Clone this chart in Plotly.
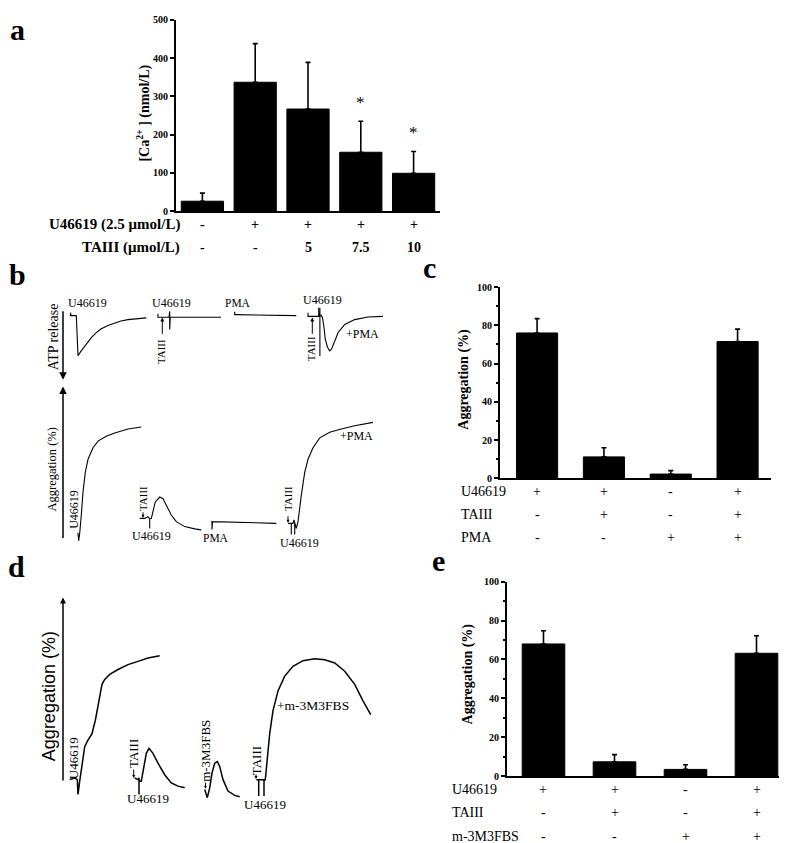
import plotly.graph_objects as go

W, H = 787, 843
SERIF = "Liberation Serif"
SANS = "Liberation Sans"

# ---------------- data ----------------
# panel a: [Ca2+] (nmol/L)
a_means = [26, 337, 267, 154, 99]
a_errs = [21, 101, 122, 81, 57]
a_u46619 = ["-", "+", "+", "+", "+"]
a_taiii = ["-", "-", "5", "7.5", "10"]
a_sig = ["", "", "", "*", "*"]

# panel c: aggregation (%)
c_means = [76, 11.2, 2.2, 71.5]
c_errs = [7.5, 4.8, 1.8, 6.5]
c_u46619 = ["+", "+", "-", "+"]
c_taiii = ["-", "+", "-", "+"]
c_pma = ["-", "-", "+", "+"]

# panel e: aggregation (%)
e_means = [68, 7.3, 3.4, 63.2]
e_errs = [6.8, 3.7, 2.4, 9.0]
e_u46619 = ["+", "+", "-", "+"]
e_taiii = ["-", "+", "-", "+"]
e_m3m3fbs = ["-", "-", "+", "+"]

# panels b and d: raw recordings (page pixel units)
bA1_x = [61.7, 62.5, 62.5, 63, 68.3, 69.2, 70, 73, 76.7, 80, 83.3, 88, 93.3, 100, 106.7, 113, 120, 130, 138.3]
bA1_y = [306, 306, 303, 306, 306, 330, 346.7, 342, 336.7, 332, 328.3, 323.5, 319.3, 316, 313.3, 311.5, 310, 309, 308.3]
bA2_x = [150, 150, 150, 161, 161.7, 161.7, 162.3, 213]
bA2_y = [304, 307.7, 307.7, 307.7, 301.7, 320, 307.7, 307.7]
bA3_x = [226.7, 226.7, 227.5, 288.3]
bA3_y = [302, 305, 305, 306]
bA4_x = [300, 300, 310, 310.7, 310.7, 311.5, 313, 314.5, 316, 317.3, 319.5, 321.7, 323.5, 325, 327.5, 330, 336.7, 346.7, 360, 375]
bA4_y = [303, 306.7, 306.7, 306.7, 298, 306.7, 305.5, 308, 318, 330, 338, 341.7, 340, 336.7, 330, 323.3, 315, 310, 307.3, 306.7]
bA4m_x = [311.9, 311.9]
bA4m_y = [298, 347]

bG1_x = [69.3, 70, 70.7, 71.7, 73.3, 75, 77.3, 80, 85, 90, 98.3, 106.7, 120, 133.3]
bG1_y = [526.7, 527, 534.3, 526.7, 508.3, 485, 465, 451.7, 440, 433.3, 428.3, 425, 421, 419]
bG2_x = [131.7, 136.7, 140, 141.7, 141.7, 141.7, 143.3, 145, 147.3, 151.7, 155, 158.3, 163.3, 168.3, 176.7, 186.7, 193.3]
bG2_y = [511.7, 511.7, 510, 512, 522, 512, 511.7, 505, 495, 490, 491.7, 498.3, 508.3, 515, 520, 522.3, 523.3]
bG3_x = [203.3, 204, 204, 204.5, 268.3]
bG3_y = [515, 515, 523, 515, 516.7]
bG4_x = [280, 283.3, 283.3, 283.3, 285, 286, 286.7, 286.7, 286.7, 288.3, 290, 293.3, 296.7, 300, 305, 311.7, 321.7, 333.3, 346.7, 365]
bG4_y = [516.7, 516.7, 528, 516.7, 516.7, 513.3, 516, 528, 516, 521.7, 515, 488.3, 465, 451.7, 440, 430, 424.3, 421, 417.7, 414.3]

d1_x = [61.7, 66.7, 69.3, 70, 71.7, 74, 76.7, 80, 84, 87.3, 90.7, 94, 96.7, 101.7, 110, 120, 130, 140, 151.7]
d1_y = [776.7, 775, 776.7, 791.7, 778.3, 760, 743.3, 736.7, 730, 716.7, 696.7, 680, 675, 670, 665, 660, 656.7, 653.3, 651]
d2_x = [126.7, 130, 131, 131, 131, 133.3, 136, 138.3, 141, 145, 150, 156.7, 163.3, 170, 176.7]
d2_y = [775, 776.7, 775, 791.7, 778, 778.3, 763.3, 750, 745, 750, 760, 771.7, 780, 783.3, 785]
d3_x = [196.7, 199.3, 201.7, 204, 206.7, 209.3, 211.7, 215, 220, 226.7, 231.7]
d3_y = [786.7, 795, 785, 770, 760, 758.3, 763.3, 776.7, 788.3, 792.7, 794]
d4_x = [248.3, 250.7, 250.7, 250.7, 253, 256, 256, 256, 257.3, 259.3, 261.7, 265, 270, 276.7, 285, 295, 306.7, 316.7, 326.7, 336.7, 346.7, 355, 362.7]
d4_y = [776.7, 776.7, 793.3, 776.7, 776.7, 776.7, 793.3, 776.7, 776.7, 753.3, 730, 706.7, 686.7, 671.7, 661.7, 656, 654, 655, 658.3, 666.7, 680, 696.7, 710.7]

# ---------------- layout helpers ----------------
def dom_x(x0, x1):
    return [x0 / W, x1 / W]

def dom_y(top, bottom):
    return [1 - bottom / H, 1 - top / H]

annotations = []

def txt(x, y, s, size, bold=False, angle=0, family=SERIF, xanchor="center",
        yanchor="middle", xref="x4", yref="y4", color="black"):
    annotations.append(dict(
        x=x, y=y, xref=xref, yref=yref, text=s, showarrow=False,
        textangle=angle, xanchor=xanchor, yanchor=yanchor, borderpad=0,
        font=dict(family=family, size=size, color=color,
                  weight="bold" if bold else "normal")))

def arrow(x, y, ax, ay, width=1.5, size=1.0, head=2):
    annotations.append(dict(
        x=x, y=y, ax=ax, ay=ay, xref="x4", yref="y4", axref="x4", ayref="y4",
        text="", showarrow=True, arrowhead=head, arrowsize=size,
        arrowwidth=width, arrowcolor="black"))

fig = go.Figure()

def bars(xa, ya, means, errs, cap):
    fig.add_trace(go.Bar(
        x=list(range(len(means))), y=means, xaxis=xa, yaxis=ya,
        marker=dict(color="black", line=dict(color="black", width=1)),
        error_y=dict(type="data", array=errs, arrayminus=[0] * len(errs),
                     symmetric=False, color="black", thickness=1.6, width=cap),
        showlegend=False, hoverinfo="skip"))

bars("x", "y", a_means, a_errs, 2.5)
bars("x2", "y2", c_means, c_errs, 2.5)
bars("x3", "y3", e_means, e_errs, 2.5)

def line(xs, ys, w=1.1):
    fig.add_trace(go.Scatter(x=xs, y=ys, xaxis="x4", yaxis="y4", mode="lines",
                             line=dict(color="black", width=w),
                             showlegend=False, hoverinfo="skip"))

for xs, ys in [(bA1_x, bA1_y), (bA2_x, bA2_y), (bA3_x, bA3_y), (bA4_x, bA4_y),
               (bA4m_x, bA4m_y), (bG1_x, bG1_y), (bG2_x, bG2_y), (bG3_x, bG3_y),
               (bG4_x, bG4_y)]:
    line(xs, ys, 1.1)
for xs, ys in [(d1_x, d1_y), (d2_x, d2_y), (d3_x, d3_y), (d4_x, d4_y)]:
    line(xs, ys, 1.5)

axis_common = dict(showline=True, linecolor="black", linewidth=2, mirror=False,
                   showgrid=False, zeroline=False)
xbar = dict(axis_common, showticklabels=False, ticks="")
ytick_font = dict(family=SERIF, size=10, color="black", weight="bold")

layout = dict(
    width=W, height=H, autosize=False,
    margin=dict(l=0, r=0, t=0, b=0),
    paper_bgcolor="white", plot_bgcolor="rgba(0,0,0,0)",
    bargap=0.2,
    xaxis=dict(xbar, domain=dom_x(168, 432), range=[-0.5, 4.5], anchor="y"),
    yaxis=dict(axis_common, domain=dom_y(6, 200), range=[0, 500], dtick=100,
               ticks="outside", ticklen=4, tickwidth=1.5, tickcolor="black",
               tickfont=ytick_font, anchor="x"),
    xaxis2=dict(xbar, domain=dom_x(492, 763), range=[-0.555, 3.5], anchor="y2"),
    yaxis2=dict(axis_common, domain=dom_y(277, 471), range=[0, 100], dtick=20,
                ticks="outside", ticklen=4, tickwidth=1.5, tickcolor="black",
                tickfont=ytick_font, anchor="x2",
                minor=dict(dtick=10, ticks="outside", ticklen=2, tickcolor="black")),
    xaxis3=dict(xbar, domain=dom_x(499, 784), range=[-0.514, 3.5], anchor="y3"),
    yaxis3=dict(axis_common, domain=dom_y(576, 773), range=[0, 100], dtick=20,
                ticks="outside", ticklen=4, tickwidth=1.5, tickcolor="black",
                tickfont=ytick_font, anchor="x3",
                minor=dict(dtick=10, ticks="outside", ticklen=2, tickcolor="black")),
    xaxis4=dict(domain=[0, 1], range=[0, W], visible=False, anchor="y4"),
    yaxis4=dict(domain=[0, 1], range=[H, 0], visible=False, anchor="x4"),
)
fig.update_layout(**layout)
fig.update_traces(width=0.8, selector=dict(xaxis="x"))
fig.update_traces(width=0.615, selector=dict(xaxis="x2"))
fig.update_traces(width=0.6, selector=dict(xaxis="x3"))

# panel letters
for letter, x, y in [("a", 9, 16), ("b", 9, 264), ("c", 421, 257), ("d", 8, 560), ("e", 430, 554)]:
    txt(x, y, letter, 30, bold=True)

# panel a labels
txt(136, 101, "[Ca<sup>2+</sup> ] (nmol/L)", 14, bold=True, angle=-90)
txt(173, 214, "U46619 (2.5 μmol/L)", 15, bold=True, xanchor="right")
txt(173, 237, "TAIII (μmol/L)", 15, bold=True, xanchor="right")
for i in range(len(a_means)):
    txt(i, 214, a_u46619[i], 14, bold=True, xref="x")
    txt(i, 237, a_taiii[i], 14, bold=True, xref="x")
    if a_sig[i]:
        annotations.append(dict(x=i, y=a_means[i] + a_errs[i], xref="x", yref="y",
                                text=a_sig[i], showarrow=False, yanchor="bottom",
                                yshift=7, font=dict(family=SERIF, size=17, color="black")))

# panel c labels
txt(456, 371, "Aggregation (%)", 14, bold=True, angle=-90)
for row, (name, vals) in enumerate([("U46619", c_u46619), ("TAIII", c_taiii), ("PMA", c_pma)]):
    yy = 484 + row * 23.5
    txt(452, yy, name, 14, xanchor="left")
    for i, v in enumerate(vals):
        txt(i, yy, v, 14, xref="x2")

# panel e labels
txt(460, 670, "Aggregation (%)", 14, bold=True, angle=-90)
for row, (name, vals) in enumerate([("U46619", e_u46619), ("TAIII", e_taiii), ("m-3M3FBS", e_m3m3fbs)]):
    yy = 787 + row * 23.5
    txt(443, yy, name, 14, xanchor="left")
    for i, v in enumerate(vals):
        txt(i, yy, v, 14, xref="x3")

# panel b annotations
txt(45, 328, "ATP release", 14, angle=-90)
arrow(55, 371, 55, 300)
txt(44, 462, "Aggregation (%)", 12.5, angle=-90)
arrow(55, 378, 55, 533)
txt(79, 293, "U46619", 12)
txt(163, 293, "U46619", 12)
txt(229.5, 293, "PMA", 11.5)
txt(314, 290, "U46619", 12)
txt(354, 325, "+PMA", 12)
txt(153, 343, "TAIII", 11, angle=-90)
arrow(154.3, 308, 154.3, 326, width=1, size=0.8)
txt(303, 340, "TAIII", 11, angle=-90)
arrow(304.3, 308, 304.3, 326, width=1, size=0.8)
txt(66, 503, "U46619", 12, angle=-90)
txt(135, 492, "TAIII", 11, angle=-90)
arrow(135, 511, 135, 504, width=1, size=0.6)
txt(143.5, 530, "U46619", 12)
txt(207.5, 532, "PMA", 11.5)
txt(280, 492, "TAIII", 11, angle=-90)
arrow(280, 516, 280, 508, width=1, size=0.6)
txt(291.5, 537, "U46619", 12)
txt(348, 428, "+PMA", 12)

# panel d annotations
txt(41, 692, "Aggregation (%)", 18, angle=-90, family=SANS)
arrow(55, 592, 55, 779, width=1.5, size=0.8)
txt(65, 755, "U46619", 13, angle=-90)
txt(125.7, 750, "TAIII", 13, angle=-90)
arrow(125.7, 775, 125.7, 765, width=1, size=0.6)
txt(140, 796, "U46619", 13)
txt(197.5, 748, "m-3M3FBS", 13, angle=-90)
arrow(197.5, 786, 197.5, 778, width=1, size=0.6)
txt(248, 758, "TAIII", 13, angle=-90)
arrow(248, 776, 248, 770, width=1, size=0.6)
txt(257, 802, "U46619", 13)
txt(305, 701, "+m-3M3FBS", 13.5)

fig.update_layout(annotations=annotations)
fig.write_html("out.html")
